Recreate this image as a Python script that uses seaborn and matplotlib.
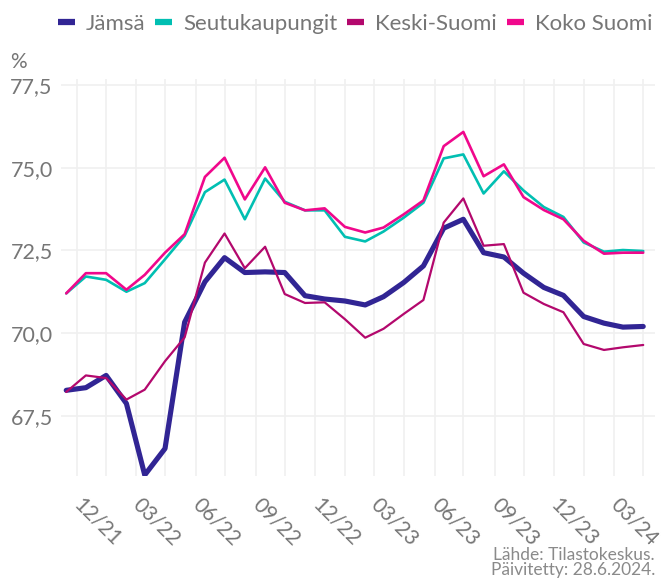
import pandas as pd
import seaborn as sns
import matplotlib.pyplot as plt
import matplotlib.dates as mdates
from matplotlib.ticker import FuncFormatter

# ===============================
# DATA (työllisyysaste, %, kuukausittain 11/2021 - 04/2024)
# ===============================
months = pd.date_range("2021-11-01", periods=30, freq="MS") + pd.Timedelta(days=14)

jamsa = [68.27, 68.35, 68.72, 67.87, 65.71, 66.51, 70.33, 71.55, 72.28, 71.83,
         71.85, 71.83, 71.13, 71.03, 70.97, 70.85, 71.10, 71.53, 72.03, 73.17,
         73.44, 72.43, 72.30, 71.81, 71.38, 71.14, 70.50, 70.30, 70.18, 70.20]
seutukaupungit = [71.20, 71.71, 71.61, 71.25, 71.51, 72.23, 72.94, 74.26, 74.64, 73.44,
                  74.67, 73.97, 73.71, 73.71, 72.91, 72.77, 73.07, 73.49, 73.94, 75.28,
                  75.40, 74.22, 74.89, 74.31, 73.81, 73.51, 72.74, 72.46, 72.51, 72.48]
keski_suomi = [68.22, 68.72, 68.64, 67.99, 68.29, 69.15, 69.87, 72.13, 73.01, 71.96,
               72.61, 71.18, 70.91, 70.93, 70.42, 69.86, 70.13, 70.58, 71.00, 73.34,
               74.07, 72.64, 72.69, 71.22, 70.88, 70.63, 69.67, 69.49, 69.57, 69.64]
koko_suomi = [71.20, 71.81, 71.81, 71.31, 71.76, 72.43, 72.99, 74.72, 75.30, 74.04,
              75.01, 73.94, 73.71, 73.77, 73.21, 73.04, 73.19, 73.59, 74.01, 75.65,
              76.08, 74.74, 75.10, 74.11, 73.72, 73.44, 72.79, 72.40, 72.43, 72.43]

series = {
    "Jämsä": jamsa,
    "Seutukaupungit": seutukaupungit,
    "Keski-Suomi": keski_suomi,
    "Koko Suomi": koko_suomi,
}
colors = {
    "Jämsä": "#312594",
    "Seutukaupungit": "#01BFB2",
    "Keski-Suomi": "#B3086D",
    "Koko Suomi": "#F0088C",
}
widths = {"Jämsä": 3.7, "Seutukaupungit": 1.9, "Keski-Suomi": 1.6, "Koko Suomi": 1.9}

# ===============================
# PLOT
# ===============================
sns.set_theme(style="white")
plt.rcParams["font.family"] = ["Lato", "DejaVu Sans"]
text_color = "#767676"

fig, ax = plt.subplots(figsize=(6.64, 5.78), dpi=100)
fig.subplots_adjust(left=61 / 664, right=655 / 664, top=1 - 79 / 578, bottom=1 - 476 / 578)

for name, vals in series.items():
    sns.lineplot(x=months, y=vals, ax=ax, color=colors[name],
                 linewidth=widths[name], label=name)

ax.set_xlim(months[0] - pd.Timedelta(days=8), months[-1] + pd.Timedelta(days=18))
ax.set_ylim(65.68, 77.68)
ax.set_yticks([67.5, 70.0, 72.5, 75.0, 77.5])
ax.yaxis.set_major_formatter(FuncFormatter(lambda v, p: f"{v:.1f}".replace(".", ",")))

ax.xaxis.set_major_locator(mdates.MonthLocator(bymonth=[3, 6, 9, 12]))
ax.xaxis.set_major_formatter(mdates.DateFormatter("%m/%y"))
ax.xaxis.set_minor_locator(mdates.MonthLocator(bymonth=[1, 4, 7, 10], bymonthday=15))

ax.grid(True, which="both", color="#f0f0f0", linewidth=1.2)
ax.set_axisbelow(True)
for s in ax.spines.values():
    s.set_visible(False)
ax.tick_params(axis="both", which="both", length=0, colors=text_color)
ax.tick_params(axis="y", labelsize=15.5, pad=6)
ax.tick_params(axis="x", labelsize=15, pad=18)
for lbl in ax.get_xticklabels():
    lbl.set_rotation(-45)
    lbl.set_ha("left")
    lbl.set_va("center")
    lbl.set_rotation_mode("anchor")
ax.set_xlabel("")
ax.set_ylabel("")

ax.get_legend().remove()
handles, labels = ax.get_legend_handles_labels()
leg = fig.legend(handles, labels, loc="upper left", bbox_to_anchor=(38 / 664, 1 + 6 / 578),
                 ncol=4, frameon=False, fontsize=16, handlelength=0.75,
                 handletextpad=0.5, columnspacing=0.45, labelcolor=text_color)
for h in leg.legend_handles:
    h.set_linewidth(4.5)
    h.set_solid_capstyle("butt")

fig.text(10 / 664, 1 - 62 / 578, "%", fontsize=15, color=text_color, va="center")
fig.text(655 / 664, 1 - 555 / 578, "Lähde: Tilastokeskus.", fontsize=12.5,
         color="#8a8a8a", ha="right", va="center")
fig.text(655 / 664, 1 - 570 / 578, "Päivitetty: 28.6.2024.", fontsize=12.5,
         color="#8a8a8a", ha="right", va="center")

fig.savefig("out.png", dpi=100)
